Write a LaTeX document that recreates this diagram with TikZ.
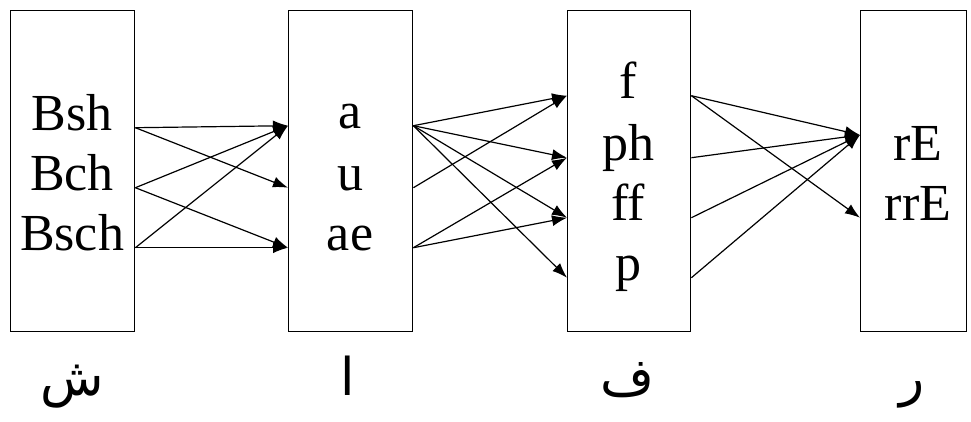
\documentclass[tikz,border=0pt]{standalone}
\usepackage{fontspec}
\setmainfont{Liberation Serif}
\newfontfamily\arabicfont[Script=Arabic]{DejaVu Sans}
\TeXXeTstate=1
\usetikzlibrary{arrows.meta}

\begin{document}
\begin{tikzpicture}[
  x=1pt,y=-1pt,
  box/.style={draw,rectangle,anchor=north west,inner sep=0pt,line width=1.4pt},
  word/.style={font=\fontsize{52}{62}\selectfont,anchor=base,inner sep=0pt},
  letter/.style={font=\arabicfont\fontsize{52}{60}\selectfont,anchor=base,inner sep=0pt},
  arr/.style={-{Latex[length=15pt,width=11pt]},line width=1.2pt}
]
\useasboundingbox (0,0) rectangle (971,421);

\node[box,minimum width=124pt,minimum height=321pt] (box1) at (10,10) {};
\node[box,minimum width=124pt,minimum height=321pt] (box2) at (288,10) {};
\node[box,minimum width=123pt,minimum height=321pt] (box3) at (567,10) {};
\node[box,minimum width=106pt,minimum height=321pt] (box4) at (860,10) {};

\node[word] (bsh) at (72,130) {Bsh};
\node[word] (bch) at (72,190) {Bch};
\node[word] (bsch) at (72,250) {Bsch};

\node[word] (a) at (350,128) {a};
\node[word] (u) at (350,190) {u};
\node[word] (ae) at (350,250) {ae};

\node[word] (f) at (628,98) {f};
\node[word] (ph) at (628,160) {ph};
\node[word] (ff) at (628,220) {ff};
\node[word] (p) at (628,280) {p};

\node[word] (re) at (918,160) {rE};
\node[word] (rre) at (918,220) {rrE};
\coordinate (rein) at (860,135);

\draw[arr] (bsh.mid -| box1.east) -- (a.mid -| box2.west);
\draw[arr] (bsh.mid -| box1.east) -- (u.mid -| box2.west);
\draw[arr] (bch.mid -| box1.east) -- (a.mid -| box2.west);
\draw[arr] (bch.mid -| box1.east) -- (ae.mid -| box2.west);
\draw[arr] (bsch.mid -| box1.east) -- (a.mid -| box2.west);
\draw[arr] (bsch.mid -| box1.east) -- (ae.mid -| box2.west);

\draw[arr] (a.mid -| box2.east) -- (f.mid -| box3.west);
\draw[arr] (a.mid -| box2.east) -- (ph.mid -| box3.west);
\draw[arr] (a.mid -| box2.east) -- (ff.mid -| box3.west);
\draw[arr] (a.mid -| box2.east) -- (p.mid -| box3.west);
\draw[arr] (u.mid -| box2.east) -- (f.mid -| box3.west);
\draw[arr] (ae.mid -| box2.east) -- (ph.mid -| box3.west);
\draw[arr] (ae.mid -| box2.east) -- (ff.mid -| box3.west);

\draw[arr] (f.mid -| box3.east) -- (rein);
\draw[arr] (f.mid -| box3.east) -- (rre.mid -| box4.west);
\draw[arr] (ph.mid -| box3.east) -- (rein);
\draw[arr] (ff.mid -| box3.east) -- (rein);
\draw[arr] (p.mid -| box3.east) -- (rein);

\node[letter] (shin) at (72,395) {\beginR ش\endR};
\node[letter] (alif) at (348,395) {\beginR ا\endR};
\node[letter] (fa) at (627,395) {\beginR ف\endR};
\node[letter] (ra) at (912,395) {\beginR ر\endR};

\end{tikzpicture}
\end{document}
